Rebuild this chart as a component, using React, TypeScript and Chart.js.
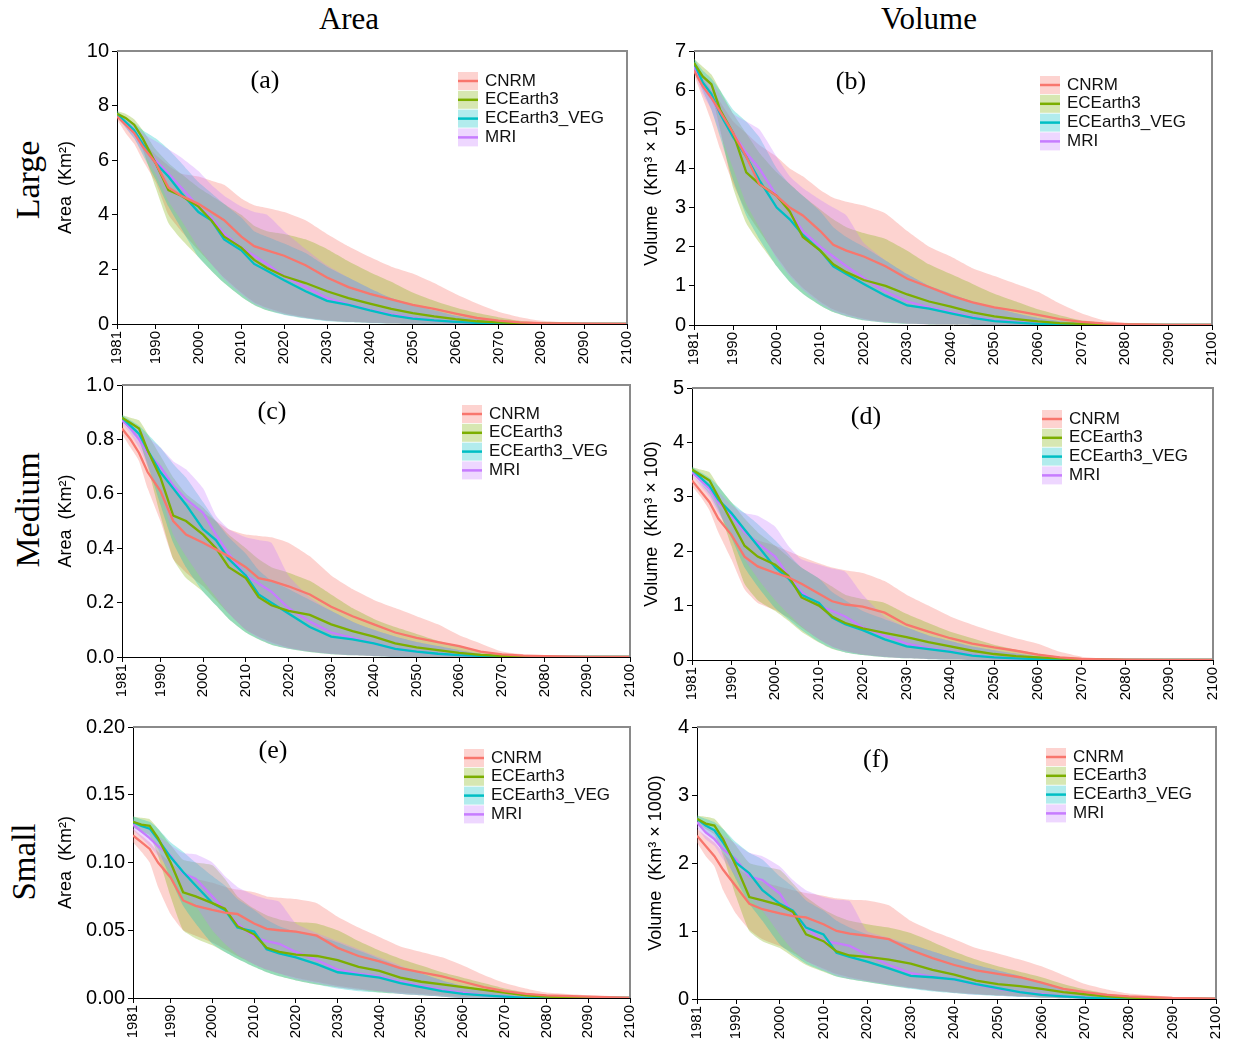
import React, { useEffect, useRef } from "react";
import { Chart, registerables } from "chart.js";

Chart.register(...registerables);
Chart.defaults.font.family = '"Liberation Sans", Arial, Helvetica, sans-serif';

// ---------------- data ----------------
const YEARS = [1981, 1983, 1985, 1987, 1990, 1993, 1996, 2000, 2003, 2006, 2010, 2013, 2016, 2020, 2025, 2030, 2035, 2040, 2045, 2050, 2055, 2060, 2065, 2070, 2075, 2080, 2090, 2100];
const X_TICKS = [1981, 1990, 2000, 2010, 2020, 2030, 2040, 2050, 2060, 2070, 2080, 2090, 2100];
const MODELS = ["CNRM", "ECEarth3", "ECEarth3_VEG", "MRI"];

const Y_TICKS_A = [0, 2, 4, 6, 8, 10];
const Y_TICKS_B = [0, 1, 2, 3, 4, 5, 6, 7];
const Y_TICKS_C = [0, 0.2, 0.4, 0.6, 0.8, 1.0];
const Y_TICKS_D = [0, 1, 2, 3, 4, 5];
const Y_TICKS_E = [0, 0.05, 0.1, 0.15, 0.2];
const Y_TICKS_F = [0, 1, 2, 3, 4];

// (a) Large, area
const aCnrm = [7.6, 7.3, 7.0, 6.5, 5.9, 5.0, 4.7, 4.4, 4.1, 3.8, 3.2, 2.85, 2.7, 2.5, 2.15, 1.7, 1.35, 1.1, 0.9, 0.7, 0.55, 0.38, 0.22, 0.12, 0.06, 0.03, 0.01, 0];
const aCnrmHi = [7.7, 7.4, 7.1, 6.7, 6.2, 5.8, 5.5, 5.4, 5.25, 5.1, 4.6, 4.35, 4.25, 4.1, 3.8, 3.3, 2.85, 2.45, 2.1, 1.85, 1.5, 1.1, 0.75, 0.45, 0.25, 0.12, 0.03, 0];
const aCnrmLo = [7.5, 7.0, 6.6, 6.0, 5.2, 4.0, 3.4, 2.7, 2.2, 1.7, 1.15, 0.8, 0.6, 0.4, 0.25, 0.14, 0.08, 0.05, 0.03, 0.015, 0.01, 0, 0, 0, 0, 0, 0, 0];
const aEce = [7.7, 7.55, 7.3, 6.8, 5.9, 4.9, 4.7, 4.3, 3.8, 3.2, 2.8, 2.35, 2.05, 1.75, 1.5, 1.2, 0.95, 0.75, 0.55, 0.4, 0.28, 0.18, 0.1, 0.06, 0.03, 0.015, 0.005, 0];
const aEceHi = [7.8, 7.7, 7.5, 7.1, 6.4, 5.9, 5.5, 5.0, 4.7, 4.4, 4.0, 3.6, 3.4, 3.3, 3.1, 2.75, 2.3, 1.9, 1.55, 1.15, 0.85, 0.6, 0.4, 0.25, 0.12, 0.06, 0.01, 0];
const aEceLo = [7.6, 7.4, 7.1, 6.4, 5.0, 3.7, 3.1, 2.45, 1.95, 1.5, 1.0, 0.7, 0.5, 0.35, 0.22, 0.12, 0.07, 0.04, 0.02, 0.01, 0, 0, 0, 0, 0, 0, 0, 0];
const aVeg = [7.7, 7.4, 7.1, 6.6, 5.9, 5.4, 4.8, 4.1, 3.8, 3.1, 2.7, 2.2, 1.95, 1.6, 1.2, 0.85, 0.7, 0.5, 0.32, 0.2, 0.13, 0.08, 0.04, 0.02, 0.01, 0, 0, 0];
const aVegHi = [7.8, 7.55, 7.35, 7.1, 6.8, 6.4, 5.9, 5.2, 4.8, 4.4, 3.9, 3.4, 3.2, 2.95, 2.6, 2.1, 1.7, 1.3, 0.95, 0.7, 0.5, 0.3, 0.18, 0.1, 0.05, 0.02, 0, 0];
const aVegLo = [7.6, 7.2, 6.8, 6.2, 5.3, 4.3, 3.5, 2.45, 1.95, 1.5, 1.0, 0.7, 0.5, 0.33, 0.2, 0.1, 0.06, 0.03, 0.02, 0.01, 0, 0, 0, 0, 0, 0, 0, 0];
const aMri = [7.7, 7.35, 7.0, 6.6, 6.0, 5.5, 5.0, 4.3, 3.9, 3.3, 2.8, 2.5, 2.2, 1.75, 1.35, 0.95, 0.72, 0.52, 0.35, 0.22, 0.13, 0.08, 0.04, 0.02, 0.01, 0, 0, 0];
const aMriHi = [7.7, 7.5, 7.3, 7.0, 6.7, 6.4, 6.1, 5.6, 5.1, 4.7, 4.3, 4.1, 4.0, 3.4, 2.75, 2.15, 1.7, 1.3, 0.95, 0.7, 0.5, 0.3, 0.18, 0.1, 0.05, 0.02, 0, 0];
const aMriLo = [7.6, 7.2, 6.8, 6.3, 5.5, 4.5, 3.8, 2.8, 2.2, 1.65, 1.1, 0.75, 0.55, 0.36, 0.22, 0.12, 0.07, 0.04, 0.02, 0.01, 0, 0, 0, 0, 0, 0, 0, 0];

// (b) Large, volume
const bCnrm = [6.5, 6.1, 5.8, 5.45, 4.9, 4.3, 3.6, 3.3, 3.0, 2.8, 2.4, 2.05, 1.9, 1.75, 1.5, 1.18, 0.97, 0.75, 0.58, 0.45, 0.36, 0.26, 0.15, 0.08, 0.04, 0.02, 0.005, 0];
const bCnrmHi = [6.6, 6.3, 6.0, 5.7, 5.2, 4.9, 4.6, 4.3, 4.0, 3.8, 3.45, 3.25, 3.15, 3.05, 2.85, 2.4, 2.0, 1.75, 1.45, 1.25, 1.05, 0.85, 0.55, 0.3, 0.12, 0.06, 0.01, 0];
const bCnrmLo = [6.4, 5.8, 5.2, 4.5, 3.6, 2.9, 2.4, 1.75, 1.3, 0.95, 0.6, 0.4, 0.28, 0.16, 0.08, 0.04, 0.02, 0.01, 0, 0, 0, 0, 0, 0, 0, 0, 0, 0];
const bEce = [6.7, 6.35, 6.15, 5.5, 4.9, 3.9, 3.6, 3.3, 2.9, 2.25, 1.9, 1.55, 1.35, 1.15, 1.0, 0.78, 0.6, 0.47, 0.32, 0.22, 0.15, 0.09, 0.05, 0.03, 0.015, 0.01, 0, 0];
const bEceHi = [6.8, 6.6, 6.4, 6.0, 5.4, 4.9, 4.4, 3.9, 3.6, 3.3, 2.95, 2.7, 2.5, 2.35, 2.2, 1.9, 1.55, 1.3, 1.05, 0.8, 0.6, 0.4, 0.25, 0.12, 0.06, 0.03, 0, 0];
const bEceLo = [6.6, 6.2, 5.9, 5.0, 3.5, 2.6, 2.1, 1.5, 1.1, 0.8, 0.5, 0.33, 0.22, 0.12, 0.06, 0.03, 0.015, 0.01, 0, 0, 0, 0, 0, 0, 0, 0, 0, 0];
const bVeg = [6.7, 6.2, 5.9, 5.4, 4.8, 4.3, 3.7, 3.0, 2.7, 2.3, 1.9, 1.5, 1.3, 1.05, 0.75, 0.5, 0.42, 0.3, 0.18, 0.1, 0.06, 0.03, 0.02, 0.01, 0, 0, 0, 0];
const bVegHi = [6.8, 6.5, 6.3, 6.0, 5.5, 5.2, 4.8, 4.0, 3.6, 3.3, 2.9, 2.5, 2.25, 2.0, 1.65, 1.3, 1.0, 0.8, 0.6, 0.45, 0.3, 0.18, 0.1, 0.05, 0.02, 0.01, 0, 0];
const bVegLo = [6.6, 6.0, 5.5, 4.8, 3.7, 2.8, 2.2, 1.5, 1.1, 0.8, 0.5, 0.33, 0.22, 0.12, 0.06, 0.03, 0.015, 0.01, 0, 0, 0, 0, 0, 0, 0, 0, 0, 0];
const bMri = [6.6, 6.1, 5.8, 5.4, 4.9, 4.4, 4.0, 3.3, 2.9, 2.4, 2.0, 1.75, 1.5, 1.2, 0.85, 0.6, 0.45, 0.33, 0.2, 0.12, 0.07, 0.04, 0.02, 0.01, 0, 0, 0, 0];
const bMriHi = [6.7, 6.4, 6.2, 5.9, 5.4, 5.2, 5.0, 4.3, 3.8, 3.5, 3.2, 3.0, 2.8, 2.1, 1.65, 1.3, 1.0, 0.8, 0.6, 0.45, 0.3, 0.18, 0.1, 0.05, 0.02, 0.01, 0, 0];
const bMriLo = [6.5, 5.9, 5.5, 4.9, 4.0, 3.1, 2.5, 1.7, 1.25, 0.9, 0.55, 0.36, 0.24, 0.13, 0.07, 0.035, 0.02, 0.01, 0, 0, 0, 0, 0, 0, 0, 0, 0, 0];

// (c) Medium, area
const cCnrm = [0.84, 0.80, 0.75, 0.68, 0.61, 0.50, 0.45, 0.42, 0.395, 0.37, 0.33, 0.29, 0.28, 0.26, 0.23, 0.185, 0.15, 0.12, 0.09, 0.07, 0.055, 0.04, 0.02, 0.01, 0.005, 0.003, 0, 0];
const cCnrmHi = [0.86, 0.83, 0.79, 0.74, 0.68, 0.62, 0.57, 0.53, 0.5, 0.47, 0.45, 0.445, 0.44, 0.42, 0.37, 0.30, 0.25, 0.21, 0.18, 0.15, 0.12, 0.08, 0.05, 0.02, 0.01, 0.005, 0, 0];
const cCnrmLo = [0.82, 0.77, 0.72, 0.62, 0.50, 0.36, 0.31, 0.26, 0.21, 0.16, 0.1, 0.075, 0.055, 0.035, 0.02, 0.012, 0.007, 0.004, 0.002, 0, 0, 0, 0, 0, 0, 0, 0, 0];
const cEce = [0.88, 0.86, 0.84, 0.76, 0.66, 0.52, 0.50, 0.45, 0.40, 0.33, 0.29, 0.22, 0.19, 0.17, 0.155, 0.12, 0.095, 0.075, 0.05, 0.035, 0.025, 0.015, 0.008, 0.004, 0.002, 0, 0, 0];
const cEceHi = [0.89, 0.88, 0.87, 0.82, 0.74, 0.66, 0.60, 0.55, 0.50, 0.45, 0.40, 0.36, 0.33, 0.31, 0.28, 0.23, 0.18, 0.14, 0.11, 0.085, 0.06, 0.04, 0.02, 0.01, 0.005, 0, 0, 0];
const cEceLo = [0.87, 0.84, 0.80, 0.70, 0.52, 0.36, 0.29, 0.24, 0.19, 0.14, 0.09, 0.065, 0.045, 0.03, 0.018, 0.01, 0.006, 0.003, 0, 0, 0, 0, 0, 0, 0, 0, 0, 0];
const cVeg = [0.88, 0.85, 0.82, 0.76, 0.68, 0.62, 0.56, 0.47, 0.43, 0.36, 0.30, 0.23, 0.2, 0.16, 0.11, 0.075, 0.065, 0.05, 0.03, 0.02, 0.012, 0.007, 0.004, 0.002, 0, 0, 0, 0];
const cVegHi = [0.89, 0.87, 0.85, 0.82, 0.77, 0.71, 0.66, 0.57, 0.5, 0.44, 0.38, 0.32, 0.28, 0.25, 0.21, 0.17, 0.13, 0.1, 0.075, 0.055, 0.04, 0.025, 0.012, 0.006, 0.002, 0, 0, 0];
const cVegLo = [0.87, 0.83, 0.79, 0.71, 0.56, 0.42, 0.33, 0.24, 0.19, 0.14, 0.09, 0.065, 0.045, 0.03, 0.018, 0.01, 0.006, 0.003, 0, 0, 0, 0, 0, 0, 0, 0, 0, 0];
const cMri = [0.87, 0.84, 0.80, 0.75, 0.70, 0.63, 0.58, 0.53, 0.45, 0.38, 0.30, 0.27, 0.24, 0.18, 0.13, 0.09, 0.07, 0.05, 0.03, 0.02, 0.012, 0.007, 0.004, 0.002, 0, 0, 0, 0];
const cMriHi = [0.88, 0.86, 0.84, 0.81, 0.77, 0.72, 0.69, 0.62, 0.52, 0.47, 0.44, 0.43, 0.42, 0.3, 0.22, 0.17, 0.13, 0.1, 0.075, 0.055, 0.04, 0.025, 0.012, 0.006, 0.002, 0, 0, 0];
const cMriLo = [0.86, 0.82, 0.77, 0.70, 0.6, 0.45, 0.37, 0.28, 0.22, 0.16, 0.1, 0.07, 0.05, 0.032, 0.02, 0.011, 0.006, 0.003, 0, 0, 0, 0, 0, 0, 0, 0, 0, 0];

// (d) Medium, volume
const dCnrm = [3.3, 3.1, 2.9, 2.6, 2.3, 1.9, 1.72, 1.6, 1.52, 1.4, 1.22, 1.08, 1.02, 0.98, 0.87, 0.65, 0.52, 0.4, 0.3, 0.23, 0.17, 0.1, 0.05, 0.02, 0.01, 0.005, 0, 0];
const dCnrmHi = [3.4, 3.25, 3.1, 2.85, 2.6, 2.35, 2.2, 2.1, 2.0, 1.9, 1.78, 1.7, 1.65, 1.6, 1.45, 1.2, 1.0, 0.8, 0.65, 0.52, 0.4, 0.3, 0.15, 0.06, 0.03, 0.015, 0, 0];
const dCnrmLo = [3.2, 3.0, 2.75, 2.35, 1.85, 1.3, 1.05, 0.92, 0.78, 0.6, 0.38, 0.25, 0.17, 0.1, 0.06, 0.035, 0.02, 0.01, 0.005, 0, 0, 0, 0, 0, 0, 0, 0, 0];
const dEce = [3.5, 3.4, 3.3, 3.0, 2.55, 2.1, 1.9, 1.75, 1.55, 1.15, 1.0, 0.8, 0.68, 0.58, 0.5, 0.42, 0.33, 0.25, 0.17, 0.11, 0.07, 0.05, 0.03, 0.015, 0.008, 0.004, 0, 0];
const dEceHi = [3.55, 3.5, 3.45, 3.2, 2.9, 2.6, 2.35, 2.1, 1.9, 1.7, 1.5, 1.35, 1.2, 1.12, 1.05, 0.85, 0.68, 0.52, 0.4, 0.28, 0.19, 0.12, 0.06, 0.03, 0.015, 0.005, 0, 0];
const dEceLo = [3.45, 3.3, 3.15, 2.8, 2.1, 1.4, 1.1, 0.9, 0.72, 0.52, 0.32, 0.2, 0.14, 0.09, 0.05, 0.03, 0.015, 0.01, 0, 0, 0, 0, 0, 0, 0, 0, 0, 0];
const dVeg = [3.5, 3.35, 3.2, 2.95, 2.7, 2.4, 2.1, 1.7, 1.5, 1.2, 1.05, 0.78, 0.66, 0.55, 0.38, 0.25, 0.2, 0.15, 0.08, 0.05, 0.03, 0.015, 0.008, 0.004, 0, 0, 0, 0];
const dVegHi = [3.55, 3.45, 3.35, 3.2, 2.9, 2.7, 2.5, 2.2, 1.95, 1.7, 1.5, 1.25, 1.1, 0.9, 0.75, 0.6, 0.45, 0.35, 0.25, 0.18, 0.12, 0.07, 0.035, 0.015, 0.005, 0, 0, 0];
const dVegLo = [3.45, 3.25, 3.05, 2.75, 2.25, 1.7, 1.35, 0.95, 0.75, 0.55, 0.33, 0.21, 0.14, 0.09, 0.05, 0.03, 0.015, 0.01, 0, 0, 0, 0, 0, 0, 0, 0, 0, 0];
const dMri = [3.45, 3.3, 3.15, 2.9, 2.65, 2.35, 2.15, 1.9, 1.55, 1.25, 1.0, 0.9, 0.8, 0.6, 0.45, 0.3, 0.22, 0.16, 0.09, 0.05, 0.03, 0.015, 0.008, 0.004, 0, 0, 0, 0];
const dMriHi = [3.5, 3.4, 3.3, 3.1, 2.85, 2.7, 2.65, 2.45, 2.1, 1.85, 1.75, 1.68, 1.62, 1.2, 0.8, 0.6, 0.45, 0.35, 0.25, 0.18, 0.12, 0.07, 0.035, 0.015, 0.005, 0, 0, 0];
const dMriLo = [3.4, 3.2, 3.0, 2.7, 2.35, 1.85, 1.5, 1.1, 0.85, 0.62, 0.38, 0.24, 0.16, 0.1, 0.055, 0.03, 0.015, 0.01, 0, 0, 0, 0, 0, 0, 0, 0, 0, 0];

// (e) Small, area
const eCnrm = [0.12, 0.115, 0.11, 0.1, 0.089, 0.072, 0.068, 0.065, 0.063, 0.062, 0.055, 0.051, 0.05, 0.049, 0.046, 0.037, 0.031, 0.027, 0.022, 0.019, 0.016, 0.012, 0.008, 0.005, 0.003, 0.002, 0.001, 0];
const eCnrmHi = [0.125, 0.12, 0.115, 0.108, 0.1, 0.093, 0.088, 0.085, 0.082, 0.08, 0.078, 0.075, 0.074, 0.073, 0.07, 0.06, 0.052, 0.045, 0.038, 0.034, 0.03, 0.024, 0.017, 0.011, 0.007, 0.004, 0.002, 0.001];
const eCnrmLo = [0.115, 0.108, 0.1, 0.082, 0.062, 0.05, 0.046, 0.041, 0.036, 0.031, 0.025, 0.021, 0.018, 0.015, 0.012, 0.009, 0.007, 0.005, 0.004, 0.003, 0.002, 0.001, 0.001, 0, 0, 0, 0, 0];
const eEce = [0.13, 0.128, 0.127, 0.118, 0.1, 0.078, 0.075, 0.07, 0.066, 0.053, 0.047, 0.037, 0.034, 0.032, 0.031, 0.028, 0.023, 0.02, 0.015, 0.012, 0.01, 0.008, 0.006, 0.004, 0.002, 0.001, 0, 0];
const eEceHi = [0.134, 0.133, 0.132, 0.125, 0.113, 0.102, 0.1, 0.098, 0.088, 0.075, 0.066, 0.061, 0.058, 0.056, 0.055, 0.05, 0.042, 0.035, 0.029, 0.024, 0.019, 0.015, 0.011, 0.007, 0.004, 0.002, 0.001, 0];
const eEceLo = [0.126, 0.123, 0.12, 0.105, 0.075, 0.05, 0.044, 0.039, 0.034, 0.029, 0.023, 0.019, 0.016, 0.013, 0.01, 0.008, 0.006, 0.004, 0.003, 0.002, 0.001, 0, 0, 0, 0, 0, 0, 0];
const eVeg = [0.13, 0.127, 0.125, 0.117, 0.104, 0.093, 0.083, 0.07, 0.065, 0.052, 0.049, 0.036, 0.033, 0.03, 0.025, 0.019, 0.017, 0.015, 0.011, 0.008, 0.005, 0.003, 0.002, 0.001, 0, 0, 0, 0];
const eVegHi = [0.134, 0.132, 0.13, 0.125, 0.115, 0.108, 0.1, 0.09, 0.083, 0.073, 0.065, 0.058, 0.053, 0.049, 0.046, 0.041, 0.035, 0.029, 0.023, 0.018, 0.013, 0.009, 0.006, 0.003, 0.001, 0, 0, 0];
const eVegLo = [0.126, 0.122, 0.119, 0.11, 0.088, 0.068, 0.055, 0.04, 0.034, 0.029, 0.023, 0.019, 0.016, 0.013, 0.01, 0.007, 0.005, 0.004, 0.003, 0.002, 0.001, 0, 0, 0, 0, 0, 0, 0];
const eMri = [0.128, 0.123, 0.118, 0.112, 0.105, 0.092, 0.088, 0.075, 0.065, 0.055, 0.045, 0.042, 0.04, 0.034, 0.028, 0.021, 0.018, 0.016, 0.012, 0.009, 0.006, 0.004, 0.002, 0.001, 0, 0, 0, 0];
const eMriHi = [0.132, 0.129, 0.126, 0.12, 0.113, 0.107, 0.106, 0.1, 0.09, 0.082, 0.076, 0.073, 0.071, 0.055, 0.048, 0.042, 0.036, 0.03, 0.024, 0.018, 0.013, 0.009, 0.006, 0.003, 0.001, 0, 0, 0];
const eMriLo = [0.124, 0.118, 0.112, 0.105, 0.094, 0.078, 0.068, 0.05, 0.04, 0.032, 0.025, 0.021, 0.018, 0.014, 0.011, 0.008, 0.006, 0.005, 0.003, 0.002, 0.001, 0, 0, 0, 0, 0, 0, 0];

// (f) Small, volume
const fCnrm = [2.4, 2.25, 2.1, 1.9, 1.65, 1.4, 1.32, 1.26, 1.22, 1.2, 1.1, 1.0, 0.96, 0.93, 0.88, 0.72, 0.6, 0.5, 0.42, 0.37, 0.32, 0.24, 0.15, 0.1, 0.06, 0.04, 0.015, 0.005];
const fCnrmHi = [2.5, 2.4, 2.3, 2.15, 1.95, 1.8, 1.72, 1.65, 1.6, 1.56, 1.52, 1.48, 1.46, 1.45, 1.38, 1.15, 1.0, 0.88, 0.75, 0.67, 0.58, 0.48, 0.35, 0.22, 0.14, 0.08, 0.03, 0.01];
const fCnrmLo = [2.3, 2.1, 1.95, 1.6, 1.25, 1.02, 0.88, 0.78, 0.68, 0.56, 0.45, 0.37, 0.32, 0.27, 0.22, 0.17, 0.13, 0.1, 0.075, 0.055, 0.04, 0.025, 0.015, 0.008, 0.004, 0.002, 0, 0];
const fEce = [2.65, 2.58, 2.55, 2.35, 1.95, 1.5, 1.45, 1.38, 1.28, 0.95, 0.85, 0.7, 0.64, 0.62, 0.58, 0.52, 0.43, 0.36, 0.27, 0.22, 0.19, 0.15, 0.1, 0.07, 0.04, 0.02, 0.005, 0];
const fEceHi = [2.7, 2.68, 2.65, 2.5, 2.25, 2.0, 1.95, 1.9, 1.7, 1.5, 1.32, 1.22, 1.15, 1.1, 1.05, 0.97, 0.84, 0.7, 0.58, 0.48, 0.4, 0.32, 0.22, 0.14, 0.08, 0.04, 0.01, 0];
const fEceLo = [2.6, 2.5, 2.42, 2.1, 1.5, 1.0, 0.85, 0.75, 0.62, 0.5, 0.4, 0.33, 0.29, 0.25, 0.2, 0.16, 0.12, 0.09, 0.07, 0.05, 0.035, 0.02, 0.012, 0.006, 0.003, 0, 0, 0];
const fVeg = [2.65, 2.55, 2.48, 2.3, 2.0, 1.85, 1.6, 1.4, 1.3, 1.05, 0.95, 0.68, 0.62, 0.55, 0.45, 0.34, 0.32, 0.29, 0.22, 0.16, 0.1, 0.06, 0.04, 0.02, 0.01, 0.005, 0, 0];
const fVegHi = [2.7, 2.65, 2.6, 2.5, 2.3, 2.15, 2.05, 1.8, 1.65, 1.45, 1.3, 1.15, 1.05, 0.95, 0.88, 0.8, 0.7, 0.6, 0.5, 0.42, 0.34, 0.25, 0.16, 0.09, 0.05, 0.02, 0.005, 0];
const fVegLo = [2.6, 2.45, 2.35, 2.15, 1.75, 1.4, 1.15, 0.8, 0.65, 0.52, 0.41, 0.33, 0.29, 0.25, 0.2, 0.15, 0.11, 0.085, 0.06, 0.045, 0.03, 0.018, 0.01, 0.005, 0.002, 0, 0, 0];
const fMri = [2.6, 2.45, 2.35, 2.2, 2.05, 1.8, 1.75, 1.55, 1.25, 1.05, 0.85, 0.82, 0.78, 0.65, 0.5, 0.38, 0.33, 0.29, 0.21, 0.15, 0.1, 0.07, 0.04, 0.02, 0.01, 0.005, 0, 0];
const fMriHi = [2.68, 2.58, 2.5, 2.4, 2.28, 2.15, 2.1, 1.95, 1.75, 1.6, 1.5, 1.46, 1.44, 1.0, 0.9, 0.8, 0.7, 0.6, 0.5, 0.42, 0.34, 0.25, 0.16, 0.09, 0.05, 0.02, 0.005, 0];
const fMriLo = [2.52, 2.35, 2.25, 2.05, 1.8, 1.5, 1.3, 0.95, 0.72, 0.56, 0.43, 0.35, 0.3, 0.26, 0.21, 0.16, 0.12, 0.09, 0.065, 0.048, 0.033, 0.02, 0.012, 0.006, 0.003, 0, 0, 0];

// ---------------- styles / layout ----------------
const LINE_COLORS = ["#F8766D", "#7CAE00", "#00BFC4", "#C77CFF"];
const BAND_COLORS = [
  "rgba(248,118,109,0.32)",
  "rgba(124,174,0,0.30)",
  "rgba(0,191,196,0.30)",
  "rgba(199,124,255,0.30)",
];

type Series = [number[], number[], number[]];
interface PanelCfg {
  L: number; R: number; T: number; B: number;
  yMax: number; yTicks: number[]; yDec: number; yTitle: string; titleX: number;
  label: string; labelX: number; labelY: number; legX: number; legY: number;
  series: Series[];
}

const PANELS: PanelCfg[] = [
  { L: 117, R: 633, T: 51, B: 324, yMax: 10, yTicks: Y_TICKS_A, yDec: 0, yTitle: "Area  (Km²)", titleX: 66,
    label: "(a)", labelX: 265, labelY: 81, legX: 458, legY: 81,
    series: [[aCnrm, aCnrmLo, aCnrmHi], [aEce, aEceLo, aEceHi], [aVeg, aVegLo, aVegHi], [aMri, aMriLo, aMriHi]] },
  { L: 694, R: 1218, T: 51, B: 325, yMax: 7, yTicks: Y_TICKS_B, yDec: 0, yTitle: "Volume  (Km³ × 10)", titleX: 652,
    label: "(b)", labelX: 851, labelY: 82, legX: 1040, legY: 85,
    series: [[bCnrm, bCnrmLo, bCnrmHi], [bEce, bEceLo, bEceHi], [bVeg, bVegLo, bVegHi], [bMri, bMriLo, bMriHi]] },
  { L: 122, R: 636, T: 385, B: 657, yMax: 1, yTicks: Y_TICKS_C, yDec: 1, yTitle: "Area  (Km²)", titleX: 66,
    label: "(c)", labelX: 272, labelY: 412, legX: 462, legY: 414,
    series: [[cCnrm, cCnrmLo, cCnrmHi], [cEce, cEceLo, cEceHi], [cVeg, cVegLo, cVegHi], [cMri, cMriLo, cMriHi]] },
  { L: 692, R: 1219, T: 388, B: 660, yMax: 5, yTicks: Y_TICKS_D, yDec: 0, yTitle: "Volume  (Km³ × 100)", titleX: 652,
    label: "(d)", labelX: 866, labelY: 417, legX: 1042, legY: 419,
    series: [[dCnrm, dCnrmLo, dCnrmHi], [dEce, dEceLo, dEceHi], [dVeg, dVegLo, dVegHi], [dMri, dMriLo, dMriHi]] },
  { L: 133, R: 636, T: 727, B: 998, yMax: 0.2, yTicks: Y_TICKS_E, yDec: 2, yTitle: "Area  (Km²)", titleX: 66,
    label: "(e)", labelX: 273, labelY: 751, legX: 464, legY: 758,
    series: [[eCnrm, eCnrmLo, eCnrmHi], [eEce, eEceLo, eEceHi], [eVeg, eVegLo, eVegHi], [eMri, eMriLo, eMriHi]] },
  { L: 697, R: 1222, T: 727, B: 999, yMax: 4, yTicks: Y_TICKS_F, yDec: 0, yTitle: "Volume  (Km³ × 1000)", titleX: 656,
    label: "(f)", labelX: 876, labelY: 760, legX: 1046, legY: 757,
    series: [[fCnrm, fCnrmLo, fCnrmHi], [fEce, fEceLo, fEceHi], [fVeg, fVegLo, fVegHi], [fMri, fMriLo, fMriHi]] },
];

const PAD_TOP = 16;
const PAD_RIGHT = 14;
const X_H = 52;
const TITLE_OFF = 11;
const TITLE_SIZE = 18;

const pts = (arr: number[]) => YEARS.map((x, i) => ({ x, y: arr[i] }));

function Panel({ p }: { p: PanelCfg }) {
  const ref = useRef<HTMLCanvasElement | null>(null);
  const cLeft = p.titleX - TITLE_OFF;
  const yW = p.L - cLeft;
  const cTop = p.T - PAD_TOP;
  const w = yW + (p.R - p.L) + PAD_RIGHT;
  const h = PAD_TOP + (p.B - p.T) + X_H;

  useEffect(() => {
    if (!ref.current) return;
    const datasets: any[] = [];
    p.series.forEach((s, i) => {
      datasets.push({
        label: MODELS[i], data: pts(s[0]), borderColor: LINE_COLORS[i], borderWidth: 2.3,
        pointRadius: 0, fill: false, order: 0, tension: 0,
      });
    });
    // bands: CNRM drawn first (bottom), MRI last (top) -> higher order drawn earlier
    p.series.forEach((s, i) => {
      const ord = 10 - i;
      datasets.push({
        label: MODELS[i] + " upper", data: pts(s[2]), borderWidth: 0, borderColor: "rgba(0,0,0,0)",
        backgroundColor: BAND_COLORS[i], pointRadius: 0, fill: "+1", order: ord, tension: 0.15,
      });
      datasets.push({
        label: MODELS[i] + " lower", data: pts(s[1]), borderWidth: 0, borderColor: "rgba(0,0,0,0)",
        pointRadius: 0, fill: false, order: ord, tension: 0.15,
      });
    });

    const deco = {
      id: "deco",
      afterDatasetsDraw(chart: any) {
        const { ctx, chartArea: ca } = chart;
        ctx.save();
        ctx.strokeStyle = "#8a8a8a";
        ctx.lineWidth = 2;
        ctx.beginPath();
        ctx.moveTo(ca.left, ca.top);
        ctx.lineTo(ca.right, ca.top);
        ctx.lineTo(ca.right, ca.bottom);
        ctx.stroke();

        ctx.fillStyle = "#000";
        ctx.font = '26px "Liberation Serif", "Times New Roman", serif';
        ctx.textAlign = "center";
        ctx.textBaseline = "middle";
        ctx.fillText(p.label, p.labelX - cLeft, p.labelY - cTop);

        ctx.font = '17px "Liberation Sans", Arial, sans-serif';
        ctx.textAlign = "left";
        MODELS.forEach((m, i) => {
          const x = p.legX - cLeft;
          const y = p.legY - cTop + i * 18.8;
          ctx.fillStyle = BAND_COLORS[i];
          ctx.fillRect(x, y - 9, 20, 18);
          ctx.strokeStyle = LINE_COLORS[i];
          ctx.lineWidth = 2.5;
          ctx.beginPath();
          ctx.moveTo(x, y);
          ctx.lineTo(x + 20, y);
          ctx.stroke();
          ctx.fillStyle = "#111";
          ctx.fillText(m, x + 27, y);
        });
        ctx.restore();
      },
    };

    const chart = new Chart(ref.current, {
      type: "line",
      data: { datasets },
      plugins: [deco],
      options: {
        responsive: false,
        animation: false,
        devicePixelRatio: 1,
        layout: { padding: { top: PAD_TOP, right: PAD_RIGHT, left: 0, bottom: 0 } },
        plugins: { legend: { display: false }, tooltip: { enabled: false } },
        scales: {
          x: {
            type: "linear", min: 1981, max: 2100,
            afterFit: (s: any) => { s.height = X_H; },
            afterBuildTicks: (s: any) => { s.ticks = X_TICKS.map((v) => ({ value: v })); },
            ticks: {
              autoSkip: false, minRotation: 90, maxRotation: 90, color: "#000", padding: 2,
              font: { size: 15 }, callback: (v: any) => String(v),
            },
            grid: { display: true, drawOnChartArea: false, drawTicks: true, tickLength: 5, color: "#000" },
            border: { display: true, color: "#000", width: 1 },
          },
          y: {
            type: "linear", min: 0, max: p.yMax,
            afterFit: (s: any) => { s.width = yW; },
            afterBuildTicks: (s: any) => { s.ticks = p.yTicks.map((v) => ({ value: v })); },
            ticks: {
              color: "#000", padding: 3, font: { size: 20 },
              callback: (v: any) => Number(v).toFixed(p.yDec),
            },
            grid: { display: true, drawOnChartArea: false, drawTicks: true, tickLength: 5, color: "#000" },
            border: { display: true, color: "#000", width: 1 },
            title: {
              display: true, text: p.yTitle, color: "#000", font: { size: TITLE_SIZE },
              padding: { top: TITLE_OFF - TITLE_SIZE * 0.6, bottom: 0 },
            },
          },
        },
      } as any,
    });
    return () => chart.destroy();
  }, []);

  return (
    <canvas
      ref={ref}
      width={w}
      height={h}
      style={{ position: "absolute", left: cLeft, top: cTop, width: w, height: h }}
    />
  );
}

const serif = '"Liberation Serif", "Times New Roman", serif';

function Label({ text, x, y, size, rotate }: { text: string; x: number; y: number; size: number; rotate?: boolean }) {
  return (
    <div
      style={{
        position: "absolute", left: x, top: y, fontFamily: serif, fontSize: size, color: "#000",
        whiteSpace: "nowrap", lineHeight: 1,
        transform: `translate(-50%, -50%)${rotate ? " rotate(-90deg)" : ""}`,
      }}
    >
      {text}
    </div>
  );
}

export default function App() {
  return (
    <div style={{ position: "absolute", left: 0, top: 0, width: 1233, height: 1048, background: "#fff", overflow: "hidden" }}>
      <Label text="Area" x={349} y={18} size={31} />
      <Label text="Volume" x={929} y={18} size={31} />
      <Label text="Large" x={28} y={180} size={34} rotate />
      <Label text="Medium" x={28} y={510} size={34} rotate />
      <Label text="Small" x={24} y={862} size={33} rotate />
      {PANELS.map((p, i) => (
        <Panel key={i} p={p} />
      ))}
    </div>
  );
}
